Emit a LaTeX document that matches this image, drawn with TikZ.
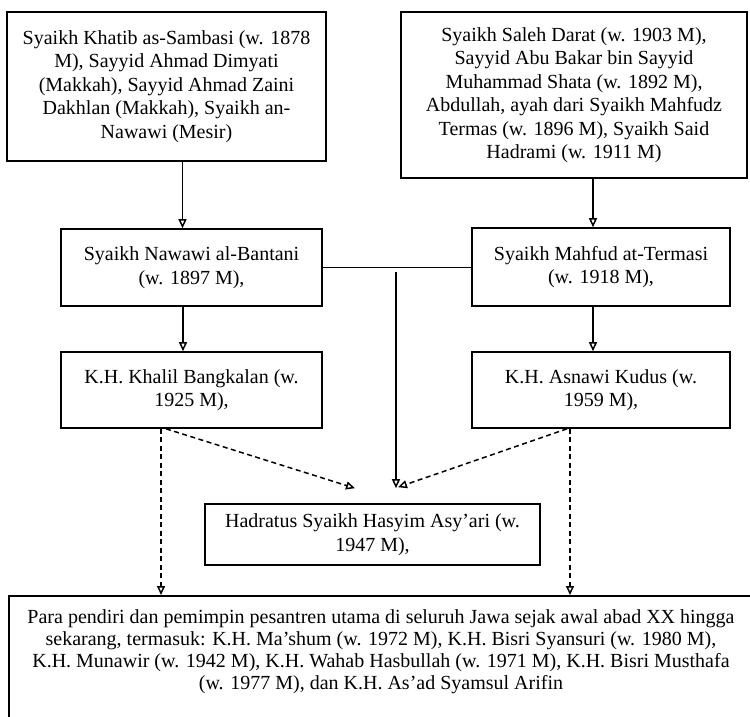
\documentclass[tikz,border=0pt]{standalone}
\usepackage{fontspec}
\setmainfont{Liberation Serif}
\usetikzlibrary{arrows.meta}
\begin{document}
\begin{tikzpicture}[x=1pt,y=-1pt,
  box/.style={draw, line width=1.6pt, align=center, inner sep=0pt,
    font=\fontsize{20}{23.5}\selectfont},
  arr/.style={line width=1.5pt, -{Triangle[open,length=9pt,width=8pt]}},
  darr/.style={line width=1.5pt, dash pattern=on 5pt off 3.5pt,
    -{Triangle[open,length=9pt,width=8pt]}},
  ln/.style={line width=1.5pt}]
\useasboundingbox (0,0) rectangle (750,716);

\node[box, minimum width=319pt, minimum height=149pt] (A) at (166.5,86.5)
  {Syaikh Khatib as-Sambasi (w. 1878\\ M), Sayyid Ahmad Dimyati\\ (Makkah), Sayyid Ahmad Zaini\\ Dakhlan (Makkah), Syaikh an-\\ Nawawi (Mesir)};
\node[box, minimum width=346pt, minimum height=166pt] (B) at (574,95)
  {Syaikh Saleh Darat (w. 1903 M),\\ Sayyid Abu Bakar bin Sayyid\\ Muhammad Shata (w. 1892 M),\\ Abdullah, ayah dari Syaikh Mahfudz\\ Termas (w. 1896 M), Syaikh Said\\ Hadrami (w. 1911 M)};
\node[box, minimum width=261pt, minimum height=77pt] (C) at (191.5,267.5)
  {Syaikh Nawawi al-Bantani\\ (w. 1897 M),};
\node[box, minimum width=258pt, minimum height=78pt] (D) at (601,267)
  {Syaikh Mahfud at-Termasi\\ (w. 1918 M),};
\node[box, minimum width=261pt, minimum height=76pt] (E) at (191.5,390)
  {K.H. Khalil Bangkalan (w.\\ 1925 M),};
\node[box, minimum width=258pt, minimum height=76pt] (F) at (601,390)
  {K.H. Asnawi Kudus (w.\\ 1959 M),};
\node[box, minimum width=335pt, minimum height=61pt] (G) at (372.5,534.5)
  {Hadratus Syaikh Hasyim Asy’ari (w.\\ 1947 M),};
\node[draw, line width=1.6pt, inner sep=0pt, minimum width=770pt, minimum height=150pt,
  anchor=north west] (H) at (8,595) {};
\node[align=center, inner sep=0pt, anchor=north, font=\fontsize{20}{22}\selectfont] (Ht) at (381,609)
  {Para pendiri dan pemimpin pesantren utama di seluruh Jawa sejak awal abad XX hingga\\
   sekarang, termasuk: K.H. Ma’shum (w. 1972 M), K.H. Bisri Syansuri (w. 1980 M),\\
   K.H. Munawir (w. 1942 M), K.H. Wahab Hasbullah (w. 1971 M), K.H. Bisri Musthafa\\
   (w. 1977 M), dan K.H. As’ad Syamsul Arifin};

% coordinates for connector positions
\coordinate (c1) at ([xshift=-9pt]C.north);
\coordinate (d1) at ([xshift=-8pt]D.north);
\coordinate (e1) at ([xshift=-8.5pt]E.north);
\coordinate (f1) at ([xshift=-8pt]F.north);
\coordinate (j) at (396,272);
\coordinate (gt) at ([xshift=23.5pt,yshift=15pt]G.north);
\coordinate (gl) at ([xshift=-17.5pt,yshift=15pt]G.north);
\coordinate (gr) at ([xshift=25.5pt,yshift=16pt]G.north);
\coordinate (el) at ([xshift=-30.5pt]E.south);
\coordinate (ed) at ([xshift=-25.5pt]E.south);
\coordinate (fl) at ([xshift=-31pt]F.south);
\coordinate (fd) at ([xshift=-34pt]F.south);

\draw[arr] (c1 |- A.south) -- (c1);
\draw[arr] (d1 |- B.south) -- (d1);
\draw[arr] (e1 |- C.south) -- (e1);
\draw[arr] (f1 |- D.south) -- (f1);
\draw[ln] (C.east) -- (C.east -| D.west);
\draw[arr] (j) -- (gt);
\draw[darr] (ed) -- (gl);
\draw[darr] (fd) -- (gr);
\draw[darr] (el) -- (el |- H.north);
\draw[darr] (fl) -- (fl |- H.north);
\end{tikzpicture}
\end{document}
